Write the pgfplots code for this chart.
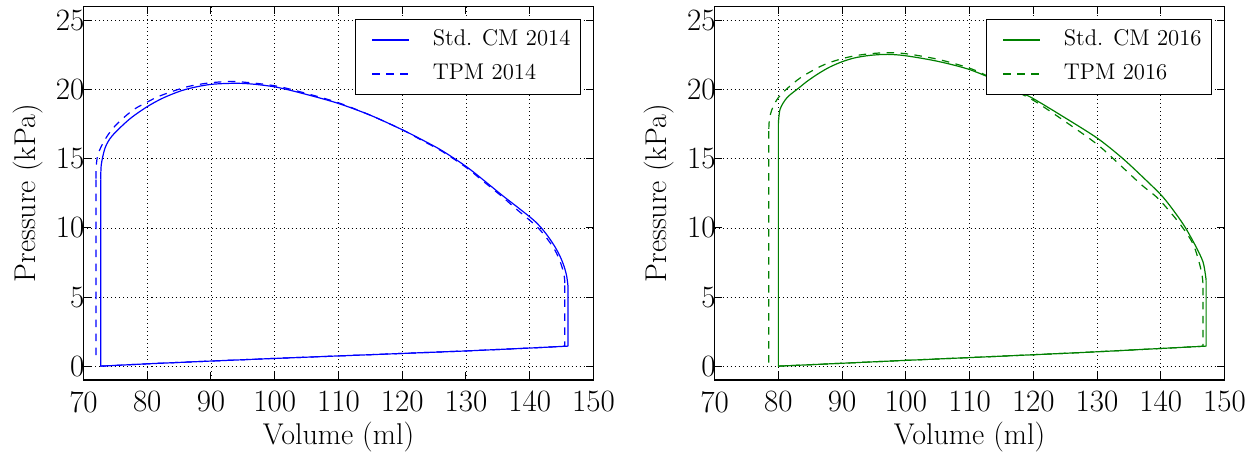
\documentclass[border=0pt]{standalone}
\usepackage{fontspec}
\usepackage{pgfplots}
\pgfplotsset{compat=1.18}
\definecolor{mplblue}{rgb}{0,0,1}
\definecolor{mplgreen}{rgb}{0,0.5,0}
\pgfplotsset{
  pvstyle/.style={
    scale only axis,
    width=255pt, height=186.65pt,
    xmin=70, xmax=150, ymin=-1, ymax=26,
    xtick={70,80,...,150}, ytick={0,5,...,25},
    unbounded coords=jump,
    /pgf/number format/assume math mode=true,
    tick label style={font=\fontsize{15.5}{18}\selectfont},
    xticklabel style={yshift=-2pt},
    yticklabel style={xshift=4pt},
    label style={font=\fontsize{15}{18}\selectfont},
    xlabel={Volume (ml)},
    ylabel={Pressure (kPa)},
    xlabel style={at={(axis description cs:0.5,0)}, anchor=base, yshift=-32.5pt},
    ylabel style={at={(axis description cs:-0.109,0.5)}, anchor=center},
    grid=major,
    major grid style={black, line width=0.35pt, dash pattern=on 0.5pt off 1.5pt},
    tick align=inside,
    major tick length=3.75pt,
    every tick/.style={black, line width=0.5pt},
    axis line style={line width=0.6pt},
    legend cell align=left,
    legend image code/.code={\path (0pt,0pt); \draw[##1] (3pt,0pt) -- (21.5pt,0pt);},
    legend style={at={(1,1)}, anchor=north east, xshift=-6.25pt, yshift=-6.15pt,
      font=\fontsize{11.35}{13}\selectfont, draw=black, line width=0.5pt, fill=white,
      inner xsep=5pt, inner ysep=1.75pt, row sep=0pt, column sep=11.5pt,
      cells={anchor=west},
      nodes={inner sep=0pt, minimum height=17pt, text depth=0.2em}},
  },
  solidline/.style={line width=0.6pt, line join=round, solid},
  dashedline/.style={line width=0.6pt, line join=round, dash pattern=on 3.75pt off 3.25pt},
}
\begin{document}
\begin{tikzpicture}
\useasboundingbox (0pt,0pt) rectangle (627.5pt,226.5pt);
% ---------------- 2014 ----------------
\begin{axis}[pvstyle, at={(41.75pt,36.5pt)}, anchor=south west]
\addplot[mplblue, solidline, smooth] coordinates {
(146.0,5.8) (145.8,6.5) (145.4,7.2) (144.8,7.9) (144,8.6) (143,9.3) (142,9.9) (141,10.4) (140,10.8)
(137.8,11.6) (135.7,12.35)
(132.5,13.55) (130,14.45) (126.2,15.6) (123,16.4) (120,17.1) (115,18.15) (110,19.0) (105,19.65)
(100,20.2) (95,20.45) (90,20.38) (85.9,20.0) (82.6,19.42) (80,18.77) (77.2,17.86) (74.5,16.66)
(73.4,15.8) (72.8,14.6) (72.7,13.5)
};
\addlegendentry{Std. CM 2014}
\addplot[mplblue, solidline, forget plot] coordinates {
(72.7,13.5) (72.7,0) (80,0.17) (90,0.37) (100,0.56) (110,0.74) (120,0.92) (130,1.1) (140,1.31)
(146.0,1.45) (146.0,5.8)
};
\addplot[mplblue, dashedline, smooth] coordinates {
(145.5,6.0) (145.45,6.4) (145.2,6.95) (144.7,7.65) (144,8.35) (143,9.05) (142,9.65) (141,10.15)
(140,10.55) (137.8,11.4) (135.7,12.25)
(132.5,13.45) (130,14.38) (126.2,15.55) (123,16.35) (120,17.1) (115,18.15) (110,19.05) (105,19.72)
(100,20.28) (94,20.58) (90,20.5) (86.2,20.2) (82,19.55) (80,19.1) (78,18.6) (76.5,18.05)
(75,17.4) (73.8,16.7) (72.8,15.9) (72.2,15.2) (71.97,14.3) (71.95,13.5)
};
\addlegendentry{TPM 2014}
\addplot[mplblue, dashedline, forget plot] coordinates {
(71.95,13.5) (71.95,0.45) (72,nan)
(72.7,0) (80,0.17) (90,0.37) (100,0.56) (110,0.74) (120,0.92) (130,1.1) (140,1.31)
(145.5,1.44) (145.5,6.0)
};
\end{axis}
% ---------------- 2016 ----------------
\begin{axis}[pvstyle, at={(357.3pt,36.5pt)}, anchor=south west]
\addplot[mplgreen, solidline, smooth] coordinates {
(147.1,6.2) (147.0,6.6) (146.6,7.56) (145.5,8.65) (143.9,9.98) (142.4,11.0) (140.2,12.3)
(137,13.75) (133.9,15.07) (130,16.5) (124.5,18.1) (120,19.35) (118.25,19.75) (115,20.5)
(110,21.45) (105,22.05) (100,22.45) (97.1,22.55) (94.4,22.48) (92,22.3) (90,22.02) (88,21.62)
(86.25,21.15) (84.5,20.6) (83.26,20.14) (81.36,19.42) (80.27,18.58) (80.0,17.5)
};
\addlegendentry{Std. CM 2016}
\addplot[mplgreen, solidline, forget plot] coordinates {
(80.0,17.5) (80,0) (90,0.21) (100,0.42) (110,0.62) (124.5,0.92) (130,1.04) (140,1.28)
(147.1,1.45) (147.1,6.2)
};
\addplot[mplgreen, dashedline, smooth] coordinates {
(146.6,6.0) (146.5,6.47) (146.05,7.44) (145,8.89) (142.9,10.34) (139.7,12.07) (137,13.1)
(133.9,14.42) (130,16.05) (124.5,17.85) (120,19.23) (117,19.95) (113.4,20.85) (110,21.55)
(105,22.2) (100,22.6) (97.1,22.67) (94.4,22.6) (92,22.45) (90,22.24) (88,21.95) (86.25,21.6)
(83.5,20.87) (81.36,20.07) (80.0,19.42) (79.2,18.8) (78.75,18.2) (78.55,17.62) (78.5,17.0)
};
\addlegendentry{TPM 2016}
\addplot[mplgreen, dashedline, forget plot] coordinates {
(78.5,17.0) (78.5,0.2) (79,nan)
(80,0) (90,0.21) (100,0.42) (110,0.62) (124.5,0.92) (130,1.04) (140,1.28)
(146.6,1.44) (146.6,6.0)
};
\end{axis}
\end{tikzpicture}
\end{document}
